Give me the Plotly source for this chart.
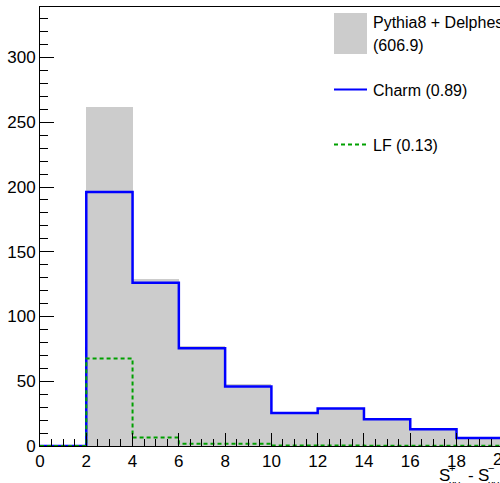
import plotly.graph_objects as go

# ---- data ----
bin_edges = [0, 2, 4, 6, 8, 10, 12, 14, 16, 18, 20]
total_mc = [0, 261.8, 129.3, 77.5, 48.2, 26.0, 29.3, 21.2, 13.4, 6.8]
charm = [0, 196.2, 126.0, 75.5, 45.9, 25.5, 28.9, 20.6, 12.9, 6.2]
light = [0, 67.5, 6.5, 1.8, 1.8, 0.4, 0.3, 0.2, 0.2, 0.1]
legend_labels = ["Pythia8 + Delphes", "(606.9)", "Charm (0.89)", "LF (0.13)"]
x_title_parts = ["S", "+", "xy", "-", "S", "−", "xy"]

W, H = 500, 483
L, R, T, B = 40, 0, 7, 37
PX_PER_UNIT = 23.14
X_MAX = (W - L - R) / PX_PER_UNIT
Y_MAX = 339

FONT = "Liberation Sans, Arial, Helvetica, sans-serif"
GREY = "#cccccc"
BLUE = "#0000ff"
GREEN = "#00a000"

def px(x):
    return (x - L) / (W - L - R)

def py(y):
    return (H - B - y) / (H - T - B)

centers = [(a + b) / 2 for a, b in zip(bin_edges[:-1], bin_edges[1:])]
widths = [b - a for a, b in zip(bin_edges[:-1], bin_edges[1:])]

fig = go.Figure()
fig.add_trace(go.Bar(x=centers, y=total_mc, width=widths, marker=dict(color=GREY, line=dict(width=0)),
                     showlegend=False, hoverinfo="skip"))
fig.add_trace(go.Scatter(x=bin_edges, y=charm + [charm[-1]], mode="lines", line_shape="hv",
                         line=dict(color=BLUE, width=2.5), showlegend=False, cliponaxis=True))
fig.add_trace(go.Scatter(x=bin_edges, y=light + [light[-1]], mode="lines", line_shape="hv",
                         line=dict(color=GREEN, width=2, dash="4px,3px"), showlegend=False))

fig.update_layout(
    width=W, height=H, margin=dict(l=L, r=R, t=T, b=B, pad=0),
    paper_bgcolor="white", plot_bgcolor="white",
    font=dict(family=FONT, size=17, color="black"),
    bargap=0,
    xaxis=dict(range=[0, X_MAX], tickmode="linear", tick0=0, dtick=2, ticks="inside", ticklen=13,
               tickcolor="black", showgrid=False, zeroline=False, showline=True, linecolor="black",
               linewidth=1, mirror=True,
               minor=dict(dtick=0.5, ticks="inside", ticklen=7, tickcolor="black", showgrid=False),
               tickfont=dict(size=17)),
    yaxis=dict(range=[0, Y_MAX], tickmode="linear", tick0=0, dtick=50, ticks="inside", ticklen=14,
               tickcolor="black", showgrid=False, zeroline=False, showline=True, linecolor="black",
               linewidth=1,
               minor=dict(dtick=10, ticks="inside", ticklen=8, tickcolor="black", showgrid=False),
               tickfont=dict(size=17)),
)

shapes = []
anns = []
# legend
shapes.append(dict(type="rect", xref="paper", yref="paper", x0=px(334), x1=px(367), y0=py(54), y1=py(13),
                   fillcolor=GREY, line=dict(width=0)))
shapes.append(dict(type="line", xref="paper", yref="paper", x0=px(334), x1=px(367), y0=py(89.5), y1=py(89.5),
                   line=dict(color=BLUE, width=2)))
shapes.append(dict(type="line", xref="paper", yref="paper", x0=px(334), x1=px(367), y0=py(144.5), y1=py(144.5),
                   line=dict(color=GREEN, width=2, dash="4px,3px")))
fig.update_layout(shapes=shapes)

def ann(text, x, y, size=16, xanchor="left"):
    anns.append(dict(text=text, xref="paper", yref="paper", x=px(x), y=py(y), xanchor=xanchor,
                     yanchor="middle", showarrow=False, font=dict(family=FONT, size=size, color="black")))

ann(legend_labels[0], 371, 22.5)
ann(legend_labels[1], 371, 45.5)
ann(legend_labels[2], 371, 90)
ann(legend_labels[3], 371, 145)
# partial tick label at x=20
ann("20", L + 20 * PX_PER_UNIT, 459, size=17, xanchor="center")
# x title (cropped)
ann(x_title_parts[0], 437, 476, size=17)
ann(x_title_parts[1], 447, 468, size=11)
ann(x_title_parts[2], 447, 484, size=11)
ann(x_title_parts[3], 466, 476, size=17)
ann(x_title_parts[4], 476, 476, size=17)
ann(x_title_parts[5], 486, 468, size=11)
ann(x_title_parts[6], 486, 484, size=11)
fig.update_layout(annotations=anns)

fig.write_html("out.html")
